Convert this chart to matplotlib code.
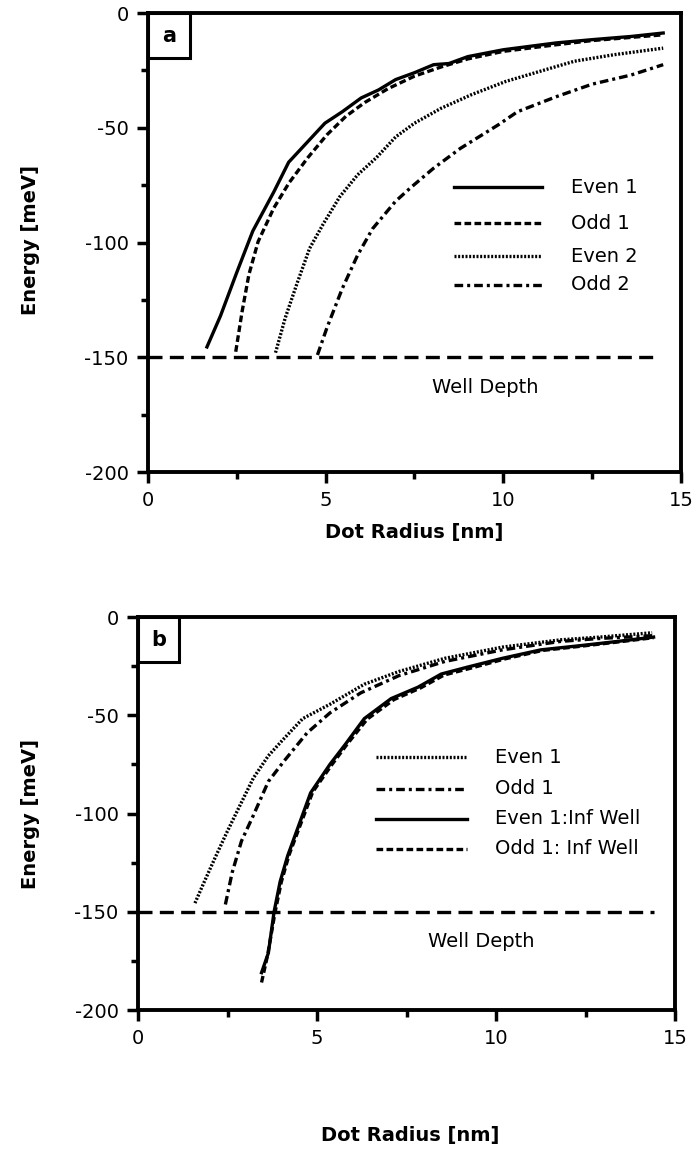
import numpy as np
import matplotlib.pyplot as plt
from matplotlib.patches import Rectangle
from matplotlib.ticker import MultipleLocator

plt.rcParams['font.family'] = ['DejaVu Sans']
plt.rcParams['axes.unicode_minus'] = False

# ---- panel a data ----
a_even1_x = [1.66, 2.04, 2.5, 2.95, 3.54, 3.96, 4.5, 4.98, 5.47, 6.0, 6.49, 6.97, 7.5, 8.04, 8.47, 9.0, 10.0, 11.5, 12.5, 13.6, 14.5]
a_even1_y = [-145.5, -132, -113, -95, -78, -65, -56, -48, -43, -37, -33.5, -29, -26, -22.5, -22, -19, -16, -13, -11.6, -10.2, -8.7]
a_odd1_x = [2.47, 2.65, 2.84, 3.1, 3.54, 3.97, 4.5, 5.04, 5.57, 6.1, 6.75, 7.5, 8.25, 9.0, 10.0, 11.5, 12.5, 13.6, 14.5]
a_odd1_y = [-147.6, -130, -114, -99.6, -85, -74, -63, -53, -45, -39, -33, -27.5, -23.5, -20, -16.7, -13.8, -12, -10.6, -9.5]
a_even2_x = [3.59, 3.86, 4.18, 4.55, 4.93, 5.4, 5.9, 6.43, 6.97, 7.5, 8.25, 9.1, 10.07, 10.9, 12.0, 13.1, 14.5]
a_even2_y = [-148, -133, -118.5, -102.5, -92, -80, -70.5, -63, -54, -48, -41.5, -35.6, -29.8, -26, -21, -18.2, -15.3]
a_odd2_x = [4.77, 5.04, 5.47, 5.9, 6.32, 6.97, 7.4, 8.04, 8.79, 9.86, 10.4, 11.5, 12.5, 13.6, 14.5]
a_odd2_y = [-149, -137, -120, -105.5, -94, -82, -76, -67.6, -59, -48.7, -43, -36.4, -31, -27, -22.5]

# ---- panel b data ----
b_even1_x = [1.59, 1.82, 2.14, 2.47, 2.79, 3.22, 3.64, 4.07, 4.6, 5.36, 6.32, 7.29, 8.57, 10.18, 11.8, 12.9, 14.36]
b_even1_y = [-145.6, -136, -123, -110, -98, -82, -70.6, -62, -51.7, -44.4, -34.2, -27.7, -21, -15.3, -11.6, -10.2, -8]
b_odd1_x = [2.44, 2.63, 2.89, 3.22, 3.64, 4.07, 4.72, 5.36, 6.22, 7.29, 8.57, 10.18, 11.8, 12.9, 14.36]
b_odd1_y = [-146.3, -130, -114, -101, -83.7, -73.5, -59, -48.8, -38.6, -29.8, -22.6, -16.7, -12.4, -10.9, -9.5]
b_even1inf_x = [3.45, 3.64, 3.8, 3.97, 4.18, 4.5, 4.82, 5.36, 5.79, 6.32, 7.07, 7.82, 8.47, 9.2, 10.18, 11.25, 12.33, 13.4, 14.4]
b_even1inf_y = [-181, -171, -150, -134.6, -121.5, -105.5, -89.5, -75, -64.8, -51.7, -41.5, -35.7, -29, -25.5, -21, -16.7, -14.6, -12.4, -10.2]
b_odd1inf_x = [3.45, 3.62, 3.82, 4.0, 4.22, 4.55, 4.88, 5.42, 5.85, 6.4, 7.15, 7.9, 8.55, 9.3, 10.25, 11.3, 12.4, 13.45, 14.4]
b_odd1inf_y = [-186, -172, -151, -135, -121, -105, -89, -75, -64.5, -52, -42, -36, -29.5, -26, -21.3, -17, -14.8, -12.6, -10.5]

well_depth = -150
well_x = [0, 14.4]

labels_a = ['Even 1', 'Odd 1', 'Even 2', 'Odd 2']
labels_b = ['Even 1', 'Odd 1', 'Even 1:Inf Well', 'Odd 1: Inf Well']

FS = 14
LW = 2.4
solid = '-'
dashed = (0, (2.0, 1.0))
dotted = (0, (0.6, 0.5))
dashdot = (0, (2.6, 1.2, 0.9, 1.2))
welldash = (0, (4.2, 2.2))


def style_axes(ax, tag, box_w, box_h):
    ax.set_xlim(0, 15)
    ax.set_ylim(-200, 0)
    ax.xaxis.set_major_locator(MultipleLocator(5))
    ax.xaxis.set_minor_locator(MultipleLocator(2.5))
    ax.yaxis.set_major_locator(MultipleLocator(50))
    ax.yaxis.set_minor_locator(MultipleLocator(25))
    ax.tick_params(which='major', direction='out', length=8, width=2.5, labelsize=FS, pad=6)
    ax.tick_params(which='minor', direction='out', length=5, width=2.5)
    for s in ax.spines.values():
        s.set_linewidth(2.8)
    ax.add_patch(Rectangle((0, 1 - box_h), box_w, box_h, transform=ax.transAxes,
                           fill=False, lw=2.2, clip_on=False))
    ax.text(box_w / 2, 1 - box_h / 2, tag, transform=ax.transAxes, ha='center',
            va='center', fontsize=FS + 1, fontweight='bold')


def legend_rows(ax, styles, labels, x0, x1, xt, ys):
    for st, lab, yy in zip(styles, labels, ys):
        ax.plot([x0, x1], [yy, yy], color='black', lw=LW, linestyle=st)
        ax.text(xt, yy, lab, fontsize=FS, va='center', ha='left')


fig = plt.figure(figsize=(6.95, 11.64), dpi=100)

# panel a
ax1 = fig.add_axes([0.2129, 0.5945, 0.7669, 0.3943])
ax1.plot(a_even1_x, a_even1_y, color='black', lw=LW, linestyle=solid)
ax1.plot(a_odd1_x, a_odd1_y, color='black', lw=LW, linestyle=dashed)
ax1.plot(a_even2_x, a_even2_y, color='black', lw=LW, linestyle=dotted)
ax1.plot(a_odd2_x, a_odd2_y, color='black', lw=LW, linestyle=dashdot)
ax1.plot(well_x, [well_depth, well_depth], color='black', lw=LW, linestyle=welldash)
ax1.text(9.5, -163, 'Well Depth', fontsize=FS, ha='center', va='center')
legend_rows(ax1, [solid, dashed, dotted, dashdot], labels_a, 8.6, 11.1, 11.9,
            [-76, -91.6, -106, -118.5])
style_axes(ax1, 'a', 0.079, 0.098)
ax1.set_xlabel('Dot Radius [nm]', fontsize=FS, fontweight='bold')
ax1.set_ylabel('Energy [meV]', fontsize=FS, fontweight='bold')
ax1.xaxis.set_label_coords(0.5, -0.111)
ax1.yaxis.set_label_coords(-0.203, 0.505)

# panel b
ax2 = fig.add_axes([0.1986, 0.1323, 0.7727, 0.3376])
ax2.plot(b_even1_x, b_even1_y, color='black', lw=LW, linestyle=dotted)
ax2.plot(b_odd1_x, b_odd1_y, color='black', lw=LW, linestyle=dashdot)
ax2.plot(b_even1inf_x, b_even1inf_y, color='black', lw=LW, linestyle=solid)
ax2.plot(b_odd1inf_x, b_odd1inf_y, color='black', lw=LW, linestyle=dashed)
ax2.plot(well_x, [well_depth, well_depth], color='black', lw=LW, linestyle=welldash)
ax2.text(9.6, -165, 'Well Depth', fontsize=FS, ha='center', va='center')
legend_rows(ax2, [dotted, dashdot, solid, dashed], labels_b, 6.65, 9.2, 9.97,
            [-71.3, -87.3, -102.6, -118])
style_axes(ax2, 'b', 0.076, 0.115)
ax2.set_xlabel('Dot Radius [nm]', fontsize=FS, fontweight='bold')
ax2.set_ylabel('Energy [meV]', fontsize=FS, fontweight='bold')
ax2.xaxis.set_label_coords(0.506, -0.295)
ax2.yaxis.set_label_coords(-0.183, 0.5)

fig.savefig('out.png', dpi=100)
